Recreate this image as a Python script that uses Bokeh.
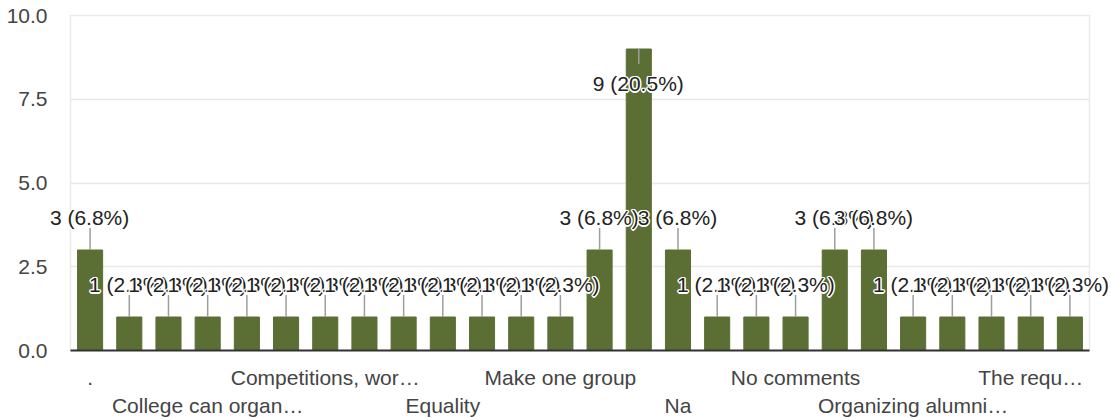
from bokeh.plotting import figure
from bokeh.models import (ColumnDataSource, Range1d, LinearAxis, FixedTicker,
                          PrintfTickFormatter)
from bokeh.core.properties import value
try:
    from bokeh.models import HTMLLabelSet as LabelCls
except Exception:
    from bokeh.models import LabelSet as LabelCls
from bokeh.embed import file_html
from bokeh.resources import INLINE

# ---- data ----
categories = [".", "All are good", "Arrange more events", "College can organ…",
              "College should…", "Communication…", "Competitions, wor…",
              "Conduct meetings…", "Conduct reunion…", "Equality", "Good",
              "Interaction with…", "Make one group", "N/A", "NA", "Na", "Nil",
              "No", "No comments", "No suggestions", "Nothing",
              "Organizing alumni…", "Regular meet…", "Seminars…", "The requ…",
              "Webinars…"]
counts = [3, 1, 1, 1, 1, 1, 1, 1, 1, 1, 1, 1, 1, 3, 9, 3, 1, 1, 1, 3, 3,
          1, 1, 1, 1, 1]
row1_labels = [".", "Competitions, wor…", "Make one group", "No comments", "The requ…"]
row2_labels = ["College can organ…", "Equality", "Na", "Organizing alumni…"]
y_ticks = [0, 2.5, 5, 7.5, 10]

n = len(categories)
idx = list(range(n))
total = sum(counts)
texts = [f"{c} ({c / total * 100:.1f}%)" for c in counts]

FONT = "Liberation Sans"
Y_MAX = 10
FRAME_H = 335  # frame height in px (converts px offsets to data units)
px = Y_MAX / FRAME_H

above = [c + (32 + 12) * px <= Y_MAX for c in counts]
lab_off = [32 if a else -35 for a in above]
line_end = [c + 22 * px if a else c - 15 * px for c, a in zip(counts, above)]

src = ColumnDataSource(dict(x=idx, val=counts, lend=line_end))
lsrc = ColumnDataSource(dict(x=idx, y=counts, t=texts, dy=lab_off))

p = figure(x_range=Range1d(-0.5, n - 0.5), y_range=Range1d(0, Y_MAX),
           width=1111, height=419,
           output_backend="svg", toolbar_location=None,
           min_border_left=70, min_border_right=22, min_border_top=15,
           min_border_bottom=0, x_axis_type=None)

# white halo behind value labels (inherited CSS text-shadow)
try:
    from bokeh.models import GlobalInlineStyleSheet
    halo_css = ", ".join(f"{dx}px {dy}px 0 #fff" for dx, dy in
                         [(1.5, 0), (-1.5, 0), (0, 1.5), (0, -1.5),
                          (1, 1), (-1, 1), (1, -1), (-1, -1)])
    p.stylesheets = [GlobalInlineStyleSheet(
        css="body { font-family: 'Liberation Sans', Arial, sans-serif; "
            f"text-shadow: {halo_css}; }}")]
except Exception:
    pass

p.vbar(x="x", top="val", width=0.64, source=src, color="#5b6e33")
p.segment(x0="x", y0="val", x1="x", y1="lend", source=src,
          line_color="#9e9e9e", line_width=1.5)

p.add_layout(LabelCls(x="x", y="y", text="t", y_offset="dy", source=lsrc,
                      text_align="center", text_baseline="middle",
                      text_font=value(FONT), text_font_size=value("21px"),
                      text_color=value("#222222")))

# grid / outline
p.xgrid.visible = False
p.ygrid.grid_line_color = "#e8e8e8"
p.ygrid.grid_line_width = 1.5
p.ygrid.ticker = FixedTicker(ticks=y_ticks)
p.outline_line_color = "#ebebeb"
p.outline_line_width = 1.5

# y axis
p.yaxis.ticker = FixedTicker(ticks=y_ticks)
p.yaxis.formatter = PrintfTickFormatter(format="%.1f")
p.yaxis.axis_line_color = None
p.yaxis.major_tick_line_color = None
p.yaxis.minor_tick_line_color = None
p.yaxis.major_tick_out = 0
p.yaxis.major_tick_in = 0
p.yaxis.major_label_standoff = 23
p.yaxis.major_label_text_font = FONT
p.yaxis.major_label_text_font_size = "21px"
p.yaxis.major_label_text_color = "#444444"


# x axes: two rows of alternating category labels
def cat_axis(labels, standoff, line):
    ticks = [categories.index(c) for c in labels]
    ax = LinearAxis(ticker=FixedTicker(ticks=ticks),
                    major_label_overrides={t: categories[t] for t in ticks})
    ax.axis_line_color = "#333333" if line else None
    ax.axis_line_width = 2
    ax.major_tick_line_color = None
    ax.minor_tick_line_color = None
    ax.major_tick_out = 0
    ax.major_tick_in = 0
    ax.major_label_standoff = standoff
    ax.major_label_text_font = FONT
    ax.major_label_text_font_size = "21px"
    ax.major_label_text_color = "#444444"
    return ax


p.add_layout(cat_axis(row1_labels, 15, True), "below")
p.add_layout(cat_axis(row2_labels, 2, False), "below")

open("out.html", "w").write(file_html(p, INLINE))
